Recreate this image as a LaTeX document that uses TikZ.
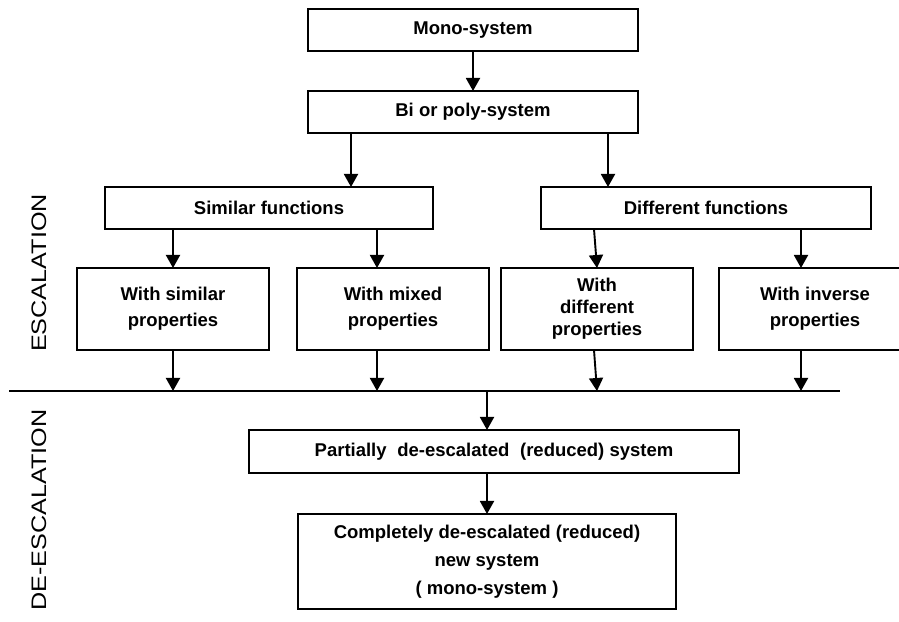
\documentclass[tikz,border=0pt]{standalone}
\usepackage{fontspec}
\setmainfont{Liberation Sans}
\usetikzlibrary{positioning,arrows.meta}

\begin{document}
\begin{tikzpicture}[x=1pt, y=1pt,
  box/.style={draw, rectangle, line width=1.9pt, align=center, inner sep=0pt, outer sep=0pt,
    font=\bfseries\fontsize{18.5}{26}\selectfont},
  arr/.style={line width=1.9pt, -{Triangle[length=13pt,width=14pt]}},
  side/.style={rotate=90, font=\fontsize{21}{25}\selectfont}]
  \useasboundingbox (0,0) rectangle (899,621);

  % top of the tree
  \node[box, minimum width=330pt, minimum height=42pt] (mono) at (473,591) {Mono-system};
  \node[box, minimum width=330pt, minimum height=42pt, below=40pt of mono] (bi) {Bi or poly-system};
  \node[box, minimum width=328pt, minimum height=42pt, below=54pt of bi, xshift=-204pt] (simfun) {Similar functions};
  \node[box, minimum width=330pt, minimum height=42pt, right=108pt of simfun] (difffun) {Different functions};

  % properties row
  \node[box, minimum width=192pt, minimum height=82pt, below=39pt of simfun, xshift=-96pt] (simprop) {With similar\\properties};
  \node[box, minimum width=192pt, minimum height=82pt, right=28pt of simprop] (mixprop) {With mixed\\properties};
  \node[box, minimum width=192pt, minimum height=82pt, right=12pt of mixprop,
    font=\bfseries\fontsize{18.5}{22}\selectfont] (diffprop) {With\\different\\properties};
  \node[box, minimum width=192pt, minimum height=82pt, right=26pt of diffprop] (invprop) {With inverse\\properties};

  % dividing line
  \coordinate (divL) at (9,230);
  \coordinate (divR) at (840,230);
  \draw[line width=1.9pt] (divL) -- (divR);

  % de-escalation part
  \node[box, minimum width=490pt, minimum height=43pt] (partial) at (494,169.5)
    {Partially\hspace{0.3em} de-escalated\hspace{0.3em} (reduced) system};
  \node[box, minimum width=378pt, minimum height=95pt, below=41pt of partial, xshift=-7pt,
    font=\bfseries\fontsize{18.5}{28}\selectfont] (complete)
    {Completely de-escalated (reduced)\\new system\\( mono-system )};

  \node[side] (esc) at (39,348) {\scalebox{1.2}[1]{ESCALATION}};
  \node[side] (deesc) at (39,111) {\scalebox{1.2}[1]{DE-ESCALATION}};

  \draw[arr] (mono) -- (bi);
  \draw[arr] ([xshift=-122pt]bi.south) -- ([xshift=-122pt]bi.south |- simfun.north);
  \draw[arr] ([xshift=135pt]bi.south) -- ([xshift=135pt]bi.south |- difffun.north);
  \draw[arr] (simfun.south -| simprop.north) -- (simprop.north);
  \draw[arr] ([xshift=-16pt]mixprop.north |- simfun.south) -- ([xshift=-16pt]mixprop.north);
  \draw[arr] ([xshift=-3pt]diffprop.north |- difffun.south) -- (diffprop.north);
  \draw[arr] ([xshift=-14pt]invprop.north |- difffun.south) -- ([xshift=-14pt]invprop.north);

  \draw[arr] (simprop.south) -- (simprop.south |- divL);
  \draw[arr] ([xshift=-16pt]mixprop.south) -- ([xshift=-16pt]mixprop.south |- divL);
  \draw[arr] ([xshift=-3pt]diffprop.south) -- (diffprop.south |- divL);
  \draw[arr] ([xshift=-14pt]invprop.south) -- ([xshift=-14pt]invprop.south |- divL);

  \draw[arr] (divL -| complete.north) -- (partial.north -| complete.north);
  \draw[arr] (partial.south -| complete.north) -- (complete.north);
\end{tikzpicture}
\end{document}
